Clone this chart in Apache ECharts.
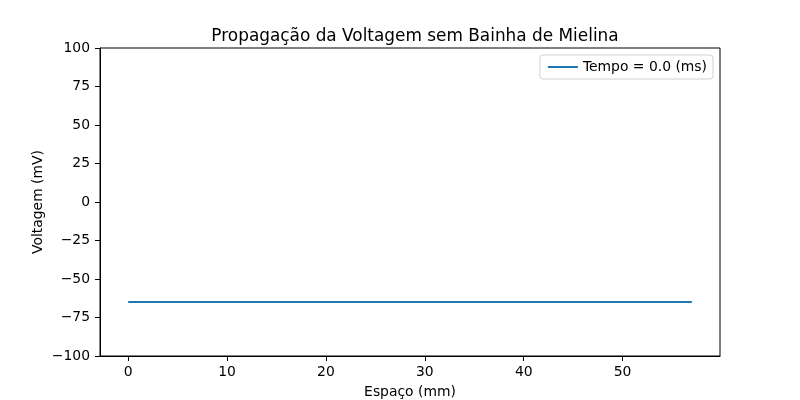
<!DOCTYPE html>
<html><head><meta charset="utf-8">
<script src="https://cdn.jsdelivr.net/npm/echarts@6/dist/echarts.min.js"></script>
<style>html,body{margin:0;padding:0;background:#fff}#c{width:800px;height:400px}</style>
</head><body><div id="c"></div>
<script>
const space = [0, 10, 20, 30, 40, 50, 57];
const voltage = [-65, -65, -65, -65, -65, -65, -65];
const xTicks = [0, 10, 20, 30, 40, 50];
const yTicks = [-100, -75, -50, -25, 0, 25, 50, 75, 100];
const seriesName = 'Tempo = 0.0 (ms)';
const titleText = 'Propagação da Voltagem sem Bainha de Mielina';

const F = 'DejaVu Sans';
const chart = echarts.init(document.getElementById('c'), null, {renderer: 'canvas'});
const fmt = v => String(v).replace('-', '\u2212');
chart.setOption({
  animation: false,
  textStyle: {fontFamily: F},
  title: {text: titleText, left: 410, top: 23, textAlign: 'center',
    textStyle: {fontFamily: F, fontSize: 16.9, fontWeight: 'normal', color: '#000'}},
  grid: {left: 100, right: 80, top: 48, bottom: 44, show: true, borderColor: '#000', borderWidth: 1,
    containLabel: false, outerBoundsMode: 'none'},
  legend: {right: 87, top: 55, itemWidth: 30, itemHeight: 2, itemGap: 10,
    padding: [5, 6, 5, 8], borderColor: '#d0d0d0', borderWidth: 1, borderRadius: 3,
    icon: 'rect',
    textStyle: {fontFamily: F, fontSize: 13.9, color: '#000'},
    data: [seriesName]},
  xAxis: {type: 'value', min: -2.85, max: 59.85,
    name: 'Espaço (mm)', nameLocation: 'middle', nameGap: 29, nameMoveOverlap: false,
    nameTextStyle: {fontFamily: F, fontSize: 13.9, color: '#000'},
    axisLine: {show: true, onZero: false, lineStyle: {color: '#000'}},
    axisTick: {show: true, customValues: xTicks, length: 5, lineStyle: {color: '#000'}},
    axisLabel: {customValues: xTicks, fontFamily: F, fontSize: 13.9, color: '#000', margin: 9},
    splitLine: {show: false}},
  yAxis: {type: 'value', min: -100, max: 100, interval: 25,
    name: 'Voltagem (mV)', nameLocation: 'middle', nameGap: 55, nameMoveOverlap: false,
    nameTextStyle: {fontFamily: F, fontSize: 13.9, color: '#000'},
    axisLine: {show: true, onZero: false, lineStyle: {color: '#000'}},
    axisTick: {show: true, customValues: yTicks, length: 5, lineStyle: {color: '#000'}},
    axisLabel: {customValues: yTicks, formatter: fmt, fontFamily: F, fontSize: 13.9, color: '#000', margin: 10},
    splitLine: {show: false}},
  series: [{name: seriesName, type: 'line', data: space.map((x, i) => [x, voltage[i]]),
    showSymbol: false, symbol: 'none', lineStyle: {color: '#1f77b4', width: 2}, itemStyle: {color: '#1f77b4'}}]
});
</script></body></html>
